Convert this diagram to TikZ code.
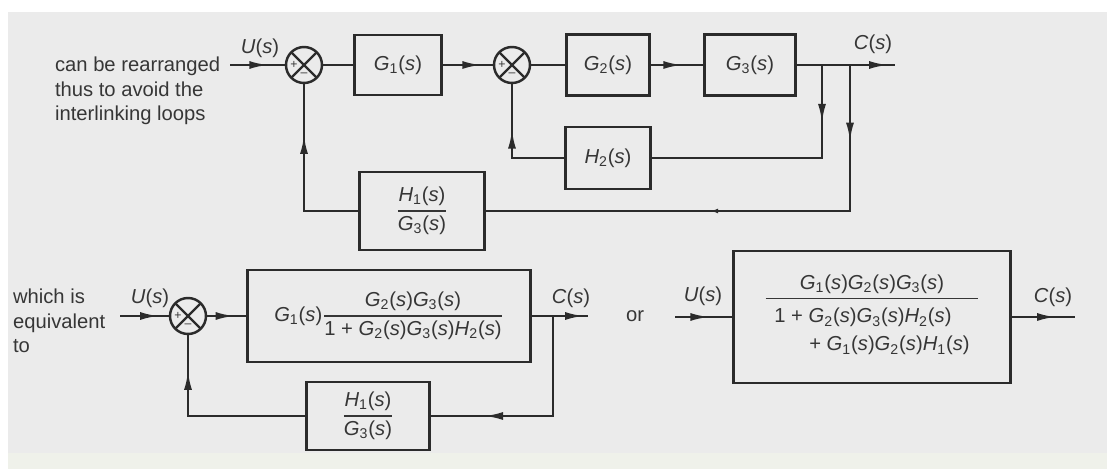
\documentclass[tikz,border=0pt]{standalone}
\usepackage{amsmath}
\usepackage{fontspec}
\setmainfont{Liberation Sans}
\usetikzlibrary{arrows.meta,decorations.markings}

\definecolor{color1}{HTML}{EBEBEB}
\definecolor{color2}{HTML}{EFF1EA}
\definecolor{color3}{HTML}{2B2B2B}
\definecolor{color4}{HTML}{363636}

\newcommand{\tf}[2]{\textit{#1}\textsubscript{#2}(\textit{s})}
\newcommand{\sig}[1]{\textit{#1}(\textit{s})}

\begin{document}
\begin{tikzpicture}[x=0.02cm, y=-0.02cm, line width=1.4pt, color3,
	font=\fontsize{11.5}{13.8}\selectfont, text=color4,
	block/.style={draw=color3, rectangle, inner sep=2pt},
	summer/.style={draw=color3, circle, minimum size=0.72cm, inner sep=0pt,
		path picture={
			\draw[line width=1.3pt] (path picture bounding box.north west) -- (path picture bounding box.south east)
			(path picture bounding box.north east) -- (path picture bounding box.south west);
			\node[font=\scriptsize, inner sep=0pt] at ([xshift=-0.2cm]path picture bounding box.center) {+};
			\node[font=\scriptsize, inner sep=0pt] at ([yshift=-0.2cm]path picture bounding box.center) {--};}},
	mid arrow/.style={postaction={decorate, decoration={markings,
		mark=at position #1 with {\arrow{Latex[length=3.8mm,width=1.6mm]}}}}},
	small arrow/.style={postaction={decorate, decoration={markings,
		mark=at position #1 with {\arrow{Latex[length=1.6mm,width=1mm]}}}}}]
	\fill[white] (0,0) rectangle (1107,469);
	\fill[color1] (8,12) rectangle (1107,453);
	\fill[color2] (8,453) rectangle (1107,469);
	\useasboundingbox (0,0) rectangle (1107,469);
	%% Top diagram ------
	\node[anchor=west, align=left] (note1) at (48,91) {can be rearranged\\thus to avoid the\\interlinking loops};
	\coordinate (in1) at (230,65);
	\node[summer] (s1) at (304,65) {};
	\node[block, minimum width=1.74cm, minimum height=1.2cm] (g1) at (398,65) {\tf{G}{1}};
	\node[summer] (s2) at (512,65) {};
	\node[block, minimum width=1.66cm, minimum height=1.22cm] (g2) at (608,65) {\tf{G}{2}};
	\node[block, minimum width=1.82cm, minimum height=1.22cm] (g3) at (750,65) {\tf{G}{3}};
	\coordinate (b1) at (822,65);
	\coordinate (b2) at (850,65);
	\coordinate (out1) at (895,65);
	\node[block, minimum width=1.7cm, minimum height=1.24cm] (h2) at (608,158) {\tf{H}{2}};
	\node[block, minimum width=2.5cm, minimum height=1.56cm] (h1g3) at (422,211)
		{$\genfrac{}{}{0.8pt}{0}{\mbox{\tf{H}{1}}}{\mbox{\tf{G}{3}}}$};
	\node (u1) at (260,48) {\sig{U}};
	\node (c1) at (873,44) {\sig{C}};
	%% Connectors ---------
	\draw[mid arrow=0.7] (in1) -- (s1);
	\draw (s1) -- (g1);
	\draw[mid arrow=0.77] (g1) -- (s2);
	\draw (s2) -- (g2);
	\draw[mid arrow=0.6] (g2) -- (g3);
	\draw[mid arrow=0.93] (g3) -- (out1);
	\draw[mid arrow=0.22] (b1) |- (h2);
	\draw[mid arrow=0.64] (h2) -| (s2);
	\draw[mid arrow=0.15, small arrow=0.56] (b2) |- (h1g3);
	\draw[mid arrow=0.72] (h1g3) -| (s1);
	%% Bottom diagram ------
	\node[anchor=west, align=left] (note2) at (6,321) {which is\\equivalent\\to};
	\coordinate (in2) at (120,316);
	\node[summer] (s3) at (188,316) {};
	\node[block, minimum width=5.66cm, minimum height=1.84cm] (gc) at (389,316)
		{\mbox{\tf{G}{1}}$\genfrac{}{}{0.8pt}{0}{\mbox{\tf{G}{2}\tf{G}{3}}}{\mbox{1 + \tf{G}{2}\tf{G}{3}\tf{H}{2}}}$};
	\coordinate (b3) at (553,316);
	\coordinate (out2) at (588,316);
	\node[block, minimum width=2.46cm, minimum height=1.36cm] (h1g3b) at (368,416)
		{$\genfrac{}{}{0.8pt}{0}{\mbox{\tf{H}{1}}}{\mbox{\tf{G}{3}}}$};
	\node (u2) at (150,298) {\sig{U}};
	\node (c2) at (571,298) {\sig{C}};
	\node (or) at (635,316) {or};
	\coordinate (in3) at (675,317);
	\node[block, minimum width=5.54cm, minimum height=2.64cm] (gt) at (872,317)
		{$\genfrac{}{}{0.8pt}{0}{\mbox{\tf{G}{1}\tf{G}{2}\tf{G}{3}}}
		{\renewcommand{\arraystretch}{1.15}\begin{tabular}{@{\hspace{5pt}}l@{\hspace{5pt}}}1 + \tf{G}{2}\tf{G}{3}\tf{H}{2}\\ \hspace{0.7cm}+ \tf{G}{1}\tf{G}{2}\tf{H}{1}\end{tabular}}$};
	\coordinate (out3) at (1075,317);
	\node (u3) at (703,296) {\sig{U}};
	\node (c3) at (1053,297) {\sig{C}};
	\draw[mid arrow=0.8] (in2) -- (s3);
	\draw[mid arrow=0.7] (s3) -- (gc);
	\draw[mid arrow=0.93] (gc) -- (out2);
	\draw[mid arrow=0.76] (b3) |- (h1g3b);
	\draw[mid arrow=0.82] (h1g3b) -| (s3);
	\draw[mid arrow=0.6] (in3) -- (gt);
	\draw[mid arrow=0.7] (gt) -- (out3);
\end{tikzpicture}
\end{document}
